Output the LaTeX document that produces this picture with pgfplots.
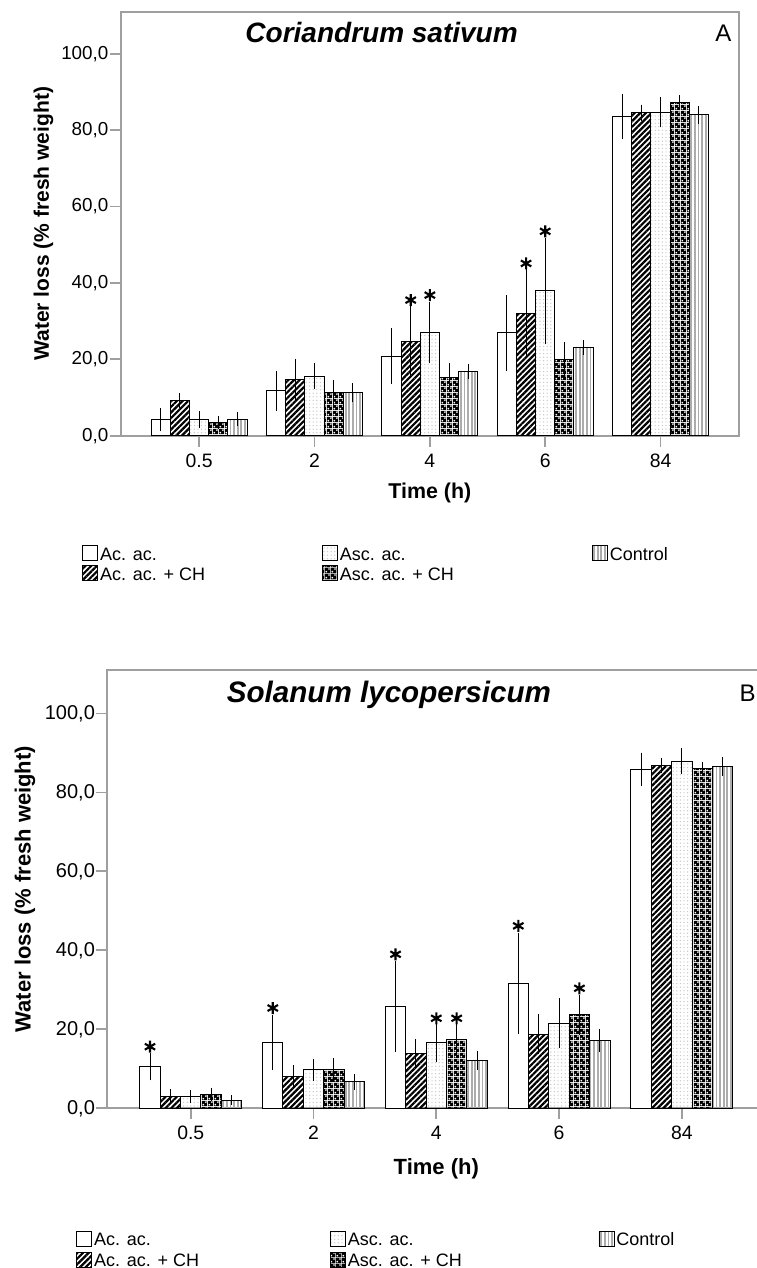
\documentclass[border=0pt]{standalone}
\usepackage{fontspec}
\setmainfont{Liberation Sans}
\usepackage{pgfplots}
\pgfplotsset{compat=1.18}
\usetikzlibrary{patterns,patterns.meta}

\pgfdeclarepatternformonly{mychecker}{\pgfqpoint{0pt}{0pt}}{\pgfqpoint{2.8pt}{2.8pt}}{\pgfqpoint{2.8pt}{2.8pt}}{%
  \pgfpathrectangle{\pgfqpoint{0pt}{0pt}}{\pgfqpoint{2.8pt}{2.8pt}}%
  \pgfpathcircle{\pgfqpoint{0.7pt}{0.7pt}}{0.62pt}%
  \pgfpathcircle{\pgfqpoint{2.1pt}{2.1pt}}{0.62pt}%
  \pgfseteorule
  \pgfusepath{fill}}

\pgfplotsset{
  sAc/.style={fill=white},
  sAcCH/.style={pattern={Lines[angle=45,distance=2pt,line width=1.1pt]}, pattern color=black},
  sAsc/.style={pattern={Dots[radius=0.35pt,distance=1.8pt]}, pattern color=gray!45},
  sAscCH/.style={pattern=mychecker, pattern color=black},
  sCtl/.style={pattern={Lines[angle=90,distance=1.8pt,line width=0.9pt]}, pattern color=gray!65},
  bb/.style={ybar, bar width=0.166, bar shift=0pt, draw=black, line width=0.5pt,
     error bars/y dir=both, error bars/y explicit},
  star/.style={only marks, mark=asterisk, mark size=3pt,
     mark options={line width=1.05pt, black}, forget plot},
  common/.style={
    scale only axis,
    xmin=-0.68, xmax=4.68, ymin=0, ymax=111,
    axis line style={gray!75, line width=1pt},
    xtick={0,1,2,3,4}, xticklabels={0.5,2,4,6,84},
    ytick={0,20,40,60,80,100},
    xtick pos=bottom, ytick pos=left, tick align=outside,
    major tick length=5.5pt,
    tick style={gray!75, line width=0.9pt},
    /pgf/number format/assume math mode=true,
    y tick label style={/pgf/number format/fixed, /pgf/number format/fixed zerofill,
       /pgf/number format/precision=1, /pgf/number format/use comma, inner xsep=0.5pt},
    x tick label style={font=\fontsize{9.7}{11}\selectfont},
    error bars/error bar style={line width=0.5pt, black},
    error bars/error mark options={mark size=1.3pt, line width=0.5pt, black},
    legend columns=3,
    legend cell align=left,
    legend image code/.code={\draw[##1, line width=0.4pt] (0pt,-2.8pt) rectangle (7.5pt,4.7pt);},
  },
}

\begin{document}
\begin{tikzpicture}
\path[use as bounding box] (0,0) rectangle (378pt,634pt);

% ---------------- Panel A ----------------
\begin{axis}[common,
  at={(60.35pt,416.15pt)}, anchor=south west,
  width=309.15pt, height=212pt,
  y tick label style={font=\fontsize{9.4}{11}\selectfont},
  ylabel={Water loss (\% fresh weight)},
  ylabel style={at={(axis description cs:-0.125,0.5)}, anchor=center, font=\fontsize{10.5}{12}\selectfont\bfseries},
  xlabel={Time (h)},
  xlabel style={at={(axis description cs:0.5,-0.135)}, anchor=center, font=\fontsize{10.7}{12}\selectfont\bfseries},
  legend style={at={(axis description cs:-0.0626,-0.2575)}, anchor=north west, draw=none, fill=none,
     inner sep=0pt, column sep=0pt, row sep=0pt, font=\fontsize{9}{10}\selectfont,
     nodes={inner sep=1pt, text height=6.5pt, text depth=1.5pt}},
]
\addplot[bb, sAc] coordinates {(-0.332,4.2) +- (0,2.4) (0.668,11.7) +- (0,4.6) (1.668,20.8) +- (0,6.6) (2.668,26.9) +- (0,9.2) (3.668,83.6) +- (0,5.3)};
\addlegendentry{\makebox[110pt][l]{Ac. ac.}}
\addplot[bb, sAsc] coordinates {(0,4.3) +- (0,1.6) (1,15.6) +- (0,2.7) (2,27.0) +- (0,7.4) (3,37.9) +- (0,13.3) (4,84.7) +- (0,3.3)};
\addlegendentry{\makebox[125pt][l]{Asc. ac.}}
\addplot[bb, sCtl] coordinates {(0.332,4.3) +- (0,1.1) (1.332,11.2) +- (0,1.8) (2.332,16.9) +- (0,1.3) (3.332,23.1) +- (0,1.2) (4.332,84.0) +- (0,1.6)};
\addlegendentry{Control}
\addplot[bb, sAcCH] coordinates {(-0.166,9.2) +- (0,1.2) (0.834,14.6) +- (0,4.9) (1.834,24.6) +- (0,8.7) (2.834,32.0) +- (0,11.1) (3.834,84.5) +- (0,1.5)};
\addlegendentry{\makebox[110pt][l]{Ac. ac. + CH}}
\addplot[bb, sAscCH] coordinates {(0.166,3.4) +- (0,1.0) (1.166,11.2) +- (0,2.7) (2.166,15.2) +- (0,3.1) (3.166,20.0) +- (0,3.9) (4.166,87.3) +- (0,1.2)};
\addlegendentry{\makebox[125pt][l]{Asc. ac. + CH}}
\addplot[star] coordinates {(1.834,35.5) (2,36.8) (2.834,45.1) (3,53.5)};
\node[font=\fontsize{14}{16}\selectfont\bfseries\itshape] at (axis description cs:0.422,0.95) {Coriandrum sativum};
\node[font=\fontsize{12}{14}\selectfont] at (axis description cs:0.9746,0.949) {A};
\end{axis}

% ---------------- Panel B ----------------
\begin{axis}[common,
  at={(53.65pt,79.85pt)}, anchor=south west,
  width=329pt, height=219.15pt,
  y tick label style={font=\fontsize{10}{12}\selectfont},
  ylabel={Water loss (\% fresh weight)},
  ylabel style={at={(axis description cs:-0.125,0.5)}, anchor=center, font=\fontsize{11}{13}\selectfont\bfseries},
  xlabel={Time (h)},
  xlabel style={at={(axis description cs:0.5,-0.1385)}, anchor=center, font=\fontsize{11}{13}\selectfont\bfseries},
  legend style={at={(axis description cs:-0.0476,-0.278)}, anchor=north west, draw=none, fill=none,
     inner sep=0pt, column sep=0pt, row sep=0.5pt, font=\fontsize{9}{10}\selectfont,
     nodes={inner sep=1pt, text height=6.5pt, text depth=1.5pt}},
]
\addplot[bb, sAc] coordinates {(-0.332,10.5) +- (0,2.8) (0.668,16.7) +- (0,6.3) (1.668,25.8) +- (0,10.8) (2.668,31.7) +- (0,12.1) (3.668,85.8) +- (0,3.6)};
\addlegendentry{\makebox[117pt][l]{Ac. ac.}}
\addplot[bb, sAsc] coordinates {(0,3.0) +- (0,1.0) (1,9.7) +- (0,2.1) (2,16.6) +- (0,4.3) (3,21.6) +- (0,5.7) (4,87.9) +- (0,2.7)};
\addlegendentry{\makebox[124.3pt][l]{Asc. ac.}}
\addplot[bb, sCtl] coordinates {(0.332,2.1) +- (0,0.6) (1.332,6.7) +- (0,1.3) (2.332,12.1) +- (0,1.7) (3.332,17.2) +- (0,2.2) (4.332,86.5) +- (0,1.7)};
\addlegendentry{Control}
\addplot[bb, sAcCH] coordinates {(-0.166,3.1) +- (0,1.1) (0.834,8.0) +- (0,2.3) (1.834,13.9) +- (0,3.0) (2.834,18.8) +- (0,4.4) (3.834,86.8) +- (0,1.3)};
\addlegendentry{\makebox[117pt][l]{Ac. ac. + CH}}
\addplot[bb, sAscCH] coordinates {(0.166,3.6) +- (0,1.0) (1.166,9.7) +- (0,2.5) (2.166,17.3) +- (0,3.6) (3.166,23.7) +- (0,4.4) (4.166,86.0) +- (0,1.1)};
\addlegendentry{\makebox[124.3pt][l]{Asc. ac. + CH}}
\addplot[star] coordinates {(-0.332,15.6) (0.668,25.4) (1.668,39.0) (2,22.8) (2.166,22.8) (2.668,46.2) (3.166,30.4)};
\node[font=\fontsize{14.8}{17}\selectfont\bfseries\itshape] at (axis description cs:0.428,0.943) {Solanum lycopersicum};
\node[font=\fontsize{12}{14}\selectfont] at (axis description cs:0.973,0.947) {B};
\end{axis}
\end{tikzpicture}
\end{document}
